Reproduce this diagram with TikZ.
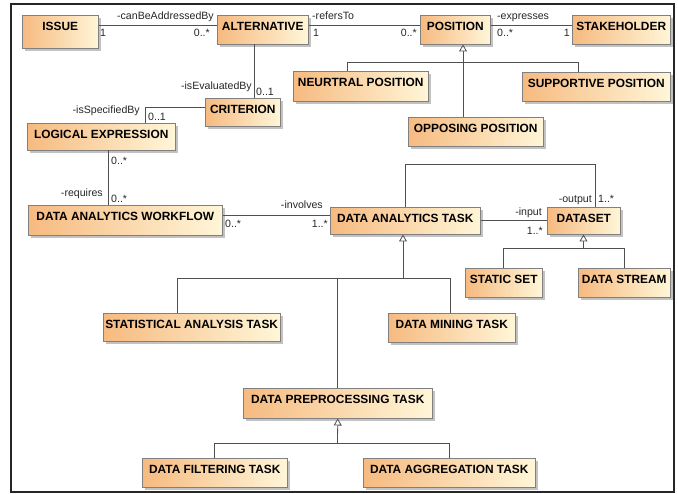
\documentclass[tikz,border=0pt]{standalone}
\usepackage{fontspec}
\setmainfont{Liberation Sans}
\usetikzlibrary{calc,shadows,arrows.meta}
\definecolor{boxL}{RGB}{246,186,128}
\definecolor{boxR}{RGB}{255,246,216}
\definecolor{lnc}{RGB}{80,80,80}
\begin{document}
\begin{tikzpicture}[x=1pt,y=-1pt,
  cls/.style={draw=black!50, line width=0.5pt, left color=boxL, right color=boxR,
    anchor=north west, inner xsep=2pt, inner ysep=3pt, text height=12pt, text depth=#1,
    drop shadow={shadow xshift=2.5pt, shadow yshift=-2.5pt, fill=black!40, opacity=0.6},
    font=\fontsize{11.9}{13}\selectfont\bfseries},
  lab/.style={inner sep=0pt, font=\fontsize{10.6}{12}\selectfont, text=black!85},
  conn/.style={draw=lnc, line width=0.8pt},
  gen/.style={conn, -{Triangle[open, width=8pt, length=7pt, fill=white]}}
]
\useasboundingbox (0,0) rectangle (678,494);
\draw[line width=1.6pt, black!85] (11,4) rectangle (674,492);

% classes
\node[cls=15pt, minimum width=76pt] (issue) at (22,15) {ISSUE};
\node[cls=11pt, minimum width=91pt] (alt) at (217,15) {ALTERNATIVE};
\node[cls=11pt, minimum width=70pt] (pos) at (420,15) {POSITION};
\node[cls=11pt, minimum width=98pt] (stake) at (572,15) {STAKEHOLDER};
\node[cls=12pt, minimum width=135pt] (neut) at (293,71) {NEURTRAL POSITION};
\node[cls=11pt, minimum width=148pt] (supp) at (522,72) {SUPPORTIVE POSITION};
\node[cls=11pt, minimum width=135pt] (opp) at (408,117) {OPPOSING POSITION};
\node[cls=10pt, minimum width=75pt] (crit) at (205,98) {CRITERION};
\node[cls=9pt, minimum width=148pt] (logic) at (27,123) {LOGICAL EXPRESSION};
\node[cls=12pt, minimum width=194pt] (wf) at (28,205) {DATA ANALYTICS WORKFLOW};
\node[cls=9pt, minimum width=150pt] (task) at (330,207) {DATA ANALYTICS TASK};
\node[cls=9pt, minimum width=73pt] (dset) at (547,207) {DATASET};
\node[cls=11pt, minimum width=77pt] (static) at (465,268) {STATIC SET};
\node[cls=11pt, minimum width=92pt] (stream) at (578,268) {DATA STREAM};
\node[cls=10pt, minimum width=169pt] (stat) at (103,313) {STATISTICAL ANALYSIS TASK};
\node[cls=11pt, minimum width=127pt] (mining) at (388,313) {DATA MINING TASK};
\node[cls=12pt, minimum width=189pt] (prep) at (243,388) {DATA PREPROCESSING TASK};
\node[cls=11pt, minimum width=145pt] (filt) at (142,458) {DATA FILTERING TASK};
\node[cls=11pt, minimum width=172pt] (aggr) at (363,458) {DATA AGGREGATION TASK};

% helper coordinates
\coordinate (top) at (0,25);
\coordinate (pj) at (463,62);
\coordinate (jn) at (347,62);
\coordinate (js) at (578,62);
\coordinate (ac) at (254,0);
\coordinate (cl) at (145,0);
\coordinate (cw) at (0,107);
\coordinate (lw) at (108,0);
\coordinate (wt) at (0,215);
\coordinate (o1) at (405,164);
\coordinate (o2) at (595,164);
\coordinate (dj) at (583.5,248);
\coordinate (tj) at (403,278);
\coordinate (sj) at (177,278);
\coordinate (mj) at (450,278);
\coordinate (rj) at (337.5,443);

% associations
\draw[conn] (issue.east |- top) -- (alt.west |- top);
\draw[conn] (alt.east |- top) -- (pos.west |- top);
\draw[conn] (pos.east |- top) -- (stake.west |- top);
\draw[conn] (alt.south -| ac) -- (crit.north -| ac);
\draw[conn] (crit.west |- cw) -| (logic.north -| cl);
\draw[conn] (logic.south -| lw) -- (wf.north -| lw);
\draw[conn] (wf.east |- wt) -- (task.west |- wt);
\draw[conn] (task.east) -- (dset.west);
\draw[conn] (task.north -| o1) -- (o1) -- (o2) -- (dset.north -| o2);

% generalizations
\draw[gen] (opp.north -| pj) -- (pos.south -| pj);
\draw[conn] (neut.north -| jn) -- (jn) -- (js) -- (supp.north -| js);
\draw[gen] (dj) -- (dset.south -| dj);
\draw[conn] (static.north) -- (static.north |- dj) -- (stream.north |- dj) -- (stream.north);
\draw[gen] (tj) -- (task.south -| tj);
\draw[conn] (stat.north -| sj) -- (sj) -- (mj) -- (mining.north -| mj);
\draw[conn] (prep.north) -- (prep.north |- tj);
\draw[gen] (rj) -- (prep.south);
\draw[conn] (filt.north) -- (filt.north |- rj) -- (aggr.north |- rj) -- (aggr.north);

% labels
\node[lab, anchor=base east] (l1) at (214,20) {-canBeAddressedBy};
\node[lab, anchor=base west] (l2) at (100,37) {1};
\node[lab, anchor=base east] (l3) at (210,37) {0..*};
\node[lab, anchor=base west] (l4) at (312,20) {-refersTo};
\node[lab, anchor=base west] (l5) at (313,37) {1};
\node[lab, anchor=base east] (l6) at (417,37) {0..*};
\node[lab, anchor=base west] (l7) at (497,20) {-expresses};
\node[lab, anchor=base west] (l8) at (497,37) {0..*};
\node[lab, anchor=base east] (l9) at (570,37) {1};
\node[lab, anchor=base east] (l10) at (252,90) {-isEvaluatedBy};
\node[lab, anchor=base west] (l11) at (256,96) {0..1};
\node[lab, anchor=base east] (l12) at (140,114) {-isSpecifiedBy};
\node[lab, anchor=base west] (l13) at (148,121) {0..1};
\node[lab, anchor=base west] (l14) at (111,165) {0..*};
\node[lab, anchor=base east] (l15) at (103,197) {-requires};
\node[lab, anchor=base west] (l16) at (111,203) {0..*};
\node[lab, anchor=base east] (l17) at (323,209) {-involves};
\node[lab, anchor=base west] (l18) at (225,228) {0..*};
\node[lab, anchor=base east] (l19) at (328,228) {1..*};
\node[lab, anchor=base east] (l20) at (542,216) {-input};
\node[lab, anchor=base east] (l21) at (543,235) {1..*};
\node[lab, anchor=base east] (l22) at (592,203) {-output};
\node[lab, anchor=base west] (l23) at (598,203) {1..*};
\end{tikzpicture}
\end{document}
